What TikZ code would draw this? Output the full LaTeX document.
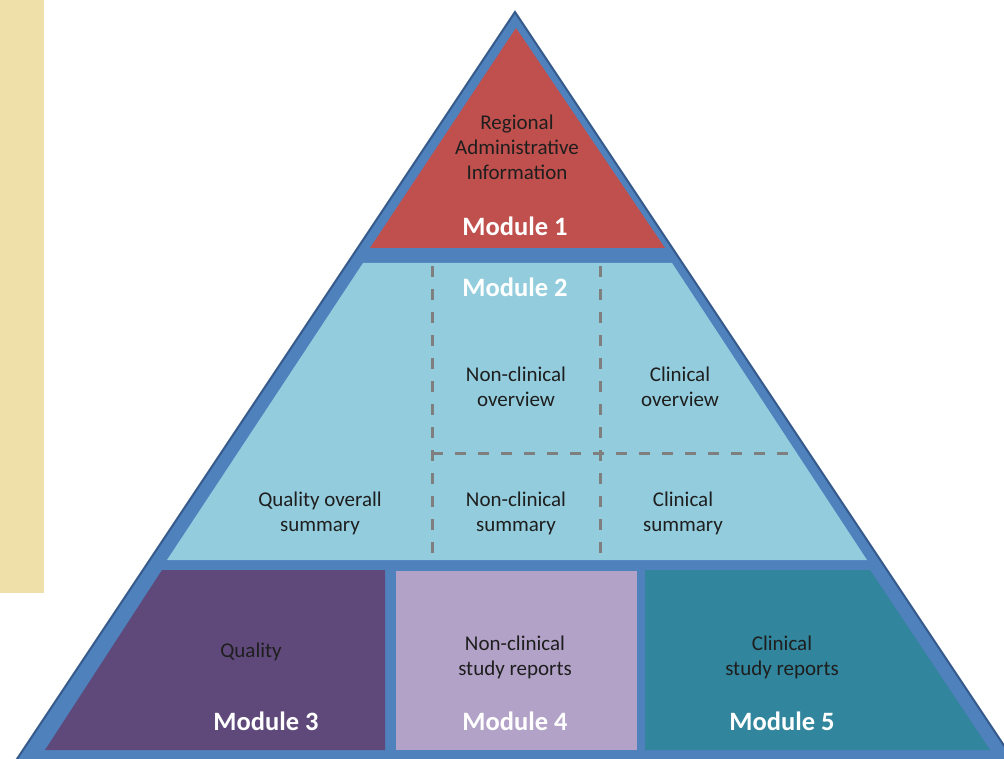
\documentclass[tikz,border=0pt]{standalone}
\usepackage{fontspec}
\setmainfont{Carlito}
\definecolor{pyrblue}{HTML}{4F81BD}
\definecolor{pyrdark}{HTML}{35598A}
\definecolor{modred}{HTML}{C0504D}
\definecolor{modsky}{HTML}{93CDDD}
\definecolor{modpurple}{HTML}{5F497A}
\definecolor{modlilac}{HTML}{B2A2C7}
\definecolor{modteal}{HTML}{31859C}
\definecolor{sandbar}{HTML}{EEE0A8}
\definecolor{dashgray}{HTML}{7F7F7F}
\definecolor{textdark}{HTML}{1E1E1E}

\begin{document}
\begin{tikzpicture}[x=1pt, y=-1pt,
	body/.style={font=\fontsize{21}{25}\selectfont, text=textdark, align=center, inner sep=0pt},
	modlabel/.style={font=\fontsize{26.5}{30}\selectfont\bfseries, text=white, inner sep=0pt},
	divider/.style={draw=dashgray, line width=3pt, dash pattern=on 11pt off 12pt}]
	\useasboundingbox (0,0) rectangle (1004,759);
	\clip (0,0) rectangle (1004,759);
	\fill[sandbar] (0,0) rectangle (44,593);
	\filldraw[fill=pyrblue, draw=pyrdark, line width=2pt] (515,12) -- (15,762) -- (1015,762) -- cycle;
	\fill[modred] (516,28) -- (370,248) -- (665,248) -- cycle;
	\fill[modsky] (363,263) -- (672,263) -- (867,560) -- (167,560) -- cycle;
	\fill[modpurple] (162,570) -- (385,570) -- (385,750) -- (45,750) -- cycle;
	\fill[modlilac] (396,571) rectangle (637,750);
	\fill[modteal] (645,570) -- (870,570) -- (990,750) -- (645,750) -- cycle;
	\draw[divider] (432,266) -- (432,558);
	\draw[divider] (600,266) -- (600,558);
	\draw[divider] (432,453) -- (797,453);

	\node[body] (regional) at (517,147) {Regional\\Administrative\\Information};
	\node[modlabel] (mod1) at (515,226) {Module 1};
	\node[modlabel] (mod2) at (515,287) {Module 2};
	\node[body] (ncover) at (516,387) {Non-clinical\\overview};
	\node[body] (clover) at (680,387) {Clinical\\overview};
	\node[body] (qos) at (320,513) {Quality overall\\summary};
	\node[body] (ncsum) at (516,513) {Non-clinical\\summary};
	\node[body] (clsum) at (683,513) {Clinical\\summary};
	\node[body] (quality) at (251,652) {Quality};
	\node[body] (ncrep) at (515,657) {Non-clinical\\study reports};
	\node[body] (clrep) at (782,657) {Clinical\\study reports};
	\node[modlabel] (mod3) at (266,721) {Module 3};
	\node[modlabel] (mod4) at (515,721) {Module 4};
	\node[modlabel] (mod5) at (782,721) {Module 5};
\end{tikzpicture}
\end{document}
